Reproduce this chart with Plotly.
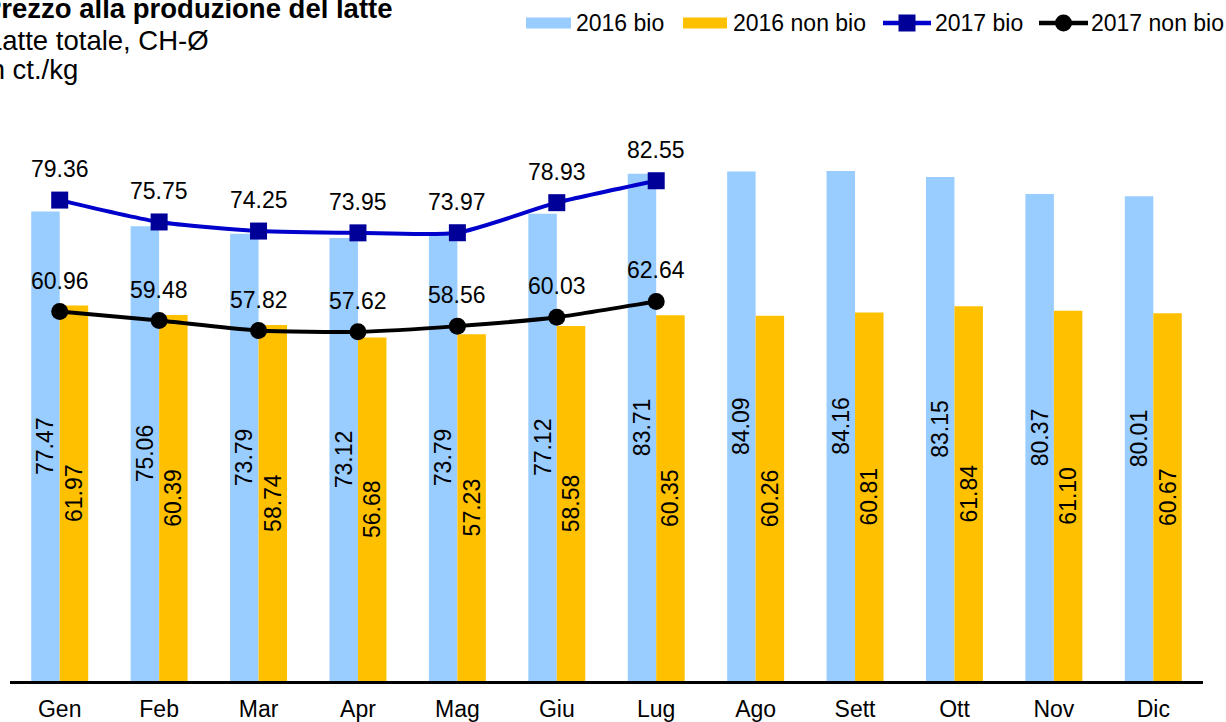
import plotly.graph_objects as go

# Monthly milk producer prices, CH average, ct./kg
months = ["Gen", "Feb", "Mar", "Apr", "Mag", "Giu", "Lug", "Ago", "Sett", "Ott", "Nov", "Dic"]
bio_2016 = [77.47, 75.06, 73.79, 73.12, 73.79, 77.12, 83.71, 84.09, 84.16, 83.15, 80.37, 80.01]
nonbio_2016 = [61.97, 60.39, 58.74, 56.68, 57.23, 58.58, 60.35, 60.26, 60.81, 61.84, 61.10, 60.67]
bio_2017 = [79.36, 75.75, 74.25, 73.95, 73.97, 78.93, 82.55]
nonbio_2017 = [60.96, 59.48, 57.82, 57.62, 58.56, 60.03, 62.64]
series_names = ["2016 bio", "2016 non bio", "2017 bio", "2017 non bio"]

FONT = "Liberation Sans, Arial, sans-serif"
FS = 23
C_BIO16 = "#99CCFF"
C_NON16 = "#FFC000"
C_BIO17 = "#0000CC"
C_BIO17_MK = "#000099"
C_NON17 = "#000000"

W, H = 1226, 722
ML, MR, MT, MB = 10, 23, 75, 41
PW, PH = W - ML - MR, H - MT - MB


def px_x(px):
    return (px - ML) / PW


def px_y(py):
    return (H - MB - py) / PH


fig = go.Figure()

bar_text_font = dict(family=FONT, size=FS, color="black")
fig.add_trace(go.Bar(
    x=months, y=bio_2016, name=series_names[0],
    marker=dict(color=C_BIO16, line=dict(width=0)),
    text=[f"{v:.2f}" for v in bio_2016], textposition="inside",
    insidetextanchor="middle", textangle=-90, textfont=bar_text_font,
    constraintext="none", hoverinfo="skip",
))
fig.add_trace(go.Bar(
    x=months, y=nonbio_2016, name=series_names[1],
    marker=dict(color=C_NON16, line=dict(width=0)),
    text=[f"{v:.2f}" for v in nonbio_2016], textposition="inside",
    insidetextanchor="middle", textangle=-90, textfont=bar_text_font,
    constraintext="none", hoverinfo="skip",
))

fig.add_trace(go.Scatter(
    x=months[:len(bio_2017)], y=bio_2017, mode="lines+markers", name=series_names[2],
    line=dict(color=C_BIO17, width=4, shape="spline", smoothing=0.6),
    marker=dict(symbol="square", size=17, color=C_BIO17_MK),
    hoverinfo="skip",
))
fig.add_trace(go.Scatter(
    x=months[:len(nonbio_2017)], y=nonbio_2017, mode="lines+markers", name=series_names[3],
    line=dict(color=C_NON17, width=4, shape="spline", smoothing=0.6),
    marker=dict(symbol="circle", size=17, color=C_NON17),
    hoverinfo="skip",
))

annotations = []
for series in (bio_2017, nonbio_2017):
    for m, v in zip(months, series):
        annotations.append(dict(x=m, y=v, xref="x", yref="y", text=f"{v:.2f}",
                                showarrow=False, yshift=31, yanchor="middle",
                                font=dict(family=FONT, size=FS, color="black")))

# title block, top-left
title_lines = [
    ("<b>Prezzo alla produzione del latte</b>", 8, -19),
    ("Latte totale, CH-Ø", 40, -15.5),
    ("In ct./kg", 69, -20),
]
for txt, ypx, xpx in title_lines:
    annotations.append(dict(x=px_x(xpx), y=px_y(ypx), xref="paper", yref="paper",
                            xanchor="left", yanchor="middle", text=txt,
                            showarrow=False, align="left",
                            font=dict(family=FONT, size=27.5, color="black")))

# legend row across the top right: wide swatches followed by the labels
shapes = []
LEG_Y = 23
legend_items = [
    # (kind, colour, marker colour, symbol x0, symbol x1, text x)
    ("bar", C_BIO16, None, 526, 571, 575),
    ("bar", C_NON16, None, 683, 727, 732),
    ("square", C_BIO17, C_BIO17_MK, 883, 931, 934),
    ("circle", C_NON17, C_NON17, 1039, 1088, 1090),
]
for name, (kind, col, mcol, x0, x1, tx) in zip(series_names, legend_items):
    if kind == "bar":
        shapes.append(dict(type="rect", xref="paper", yref="paper",
                           x0=px_x(x0), x1=px_x(x1),
                           y0=px_y(LEG_Y + 5.5), y1=px_y(LEG_Y - 5.5),
                           fillcolor=col, line=dict(width=0), layer="above"))
    else:
        shapes.append(dict(type="line", xref="paper", yref="paper",
                           x0=px_x(x0), x1=px_x(x1), y0=px_y(LEG_Y), y1=px_y(LEG_Y),
                           line=dict(color=col, width=4.5), layer="above"))
        cx = (x0 + x1) / 2
        r = 8.5
        shapes.append(dict(type="rect" if kind == "square" else "circle",
                           xref="paper", yref="paper",
                           x0=px_x(cx - r), x1=px_x(cx + r),
                           y0=px_y(LEG_Y + r), y1=px_y(LEG_Y - r),
                           fillcolor=mcol, line=dict(width=0), layer="above"))
    annotations.append(dict(x=px_x(tx), y=px_y(LEG_Y), xref="paper", yref="paper",
                            xanchor="left", yanchor="middle", text=name,
                            showarrow=False, borderpad=0,
                            font=dict(family=FONT, size=FS, color="black")))

fig.update_layout(
    width=W, height=H,
    margin=dict(l=ML, r=MR, t=MT, b=MB, pad=0, autoexpand=False),
    paper_bgcolor="white", plot_bgcolor="white",
    barmode="group", bargap=0.427, bargroupgap=0,
    font=dict(family=FONT, size=FS, color="black"),
    xaxis=dict(showline=True, linecolor="black", linewidth=3, ticks="",
               showgrid=False, zeroline=False, range=[-0.5, len(months) - 0.5],
               ticklabelstandoff=5,
               tickfont=dict(family=FONT, size=FS, color="black")),
    yaxis=dict(range=[0, 100], visible=False, showgrid=False, zeroline=False),
    showlegend=False,
    annotations=annotations,
    shapes=shapes,
)

fig.write_html("out.html")
